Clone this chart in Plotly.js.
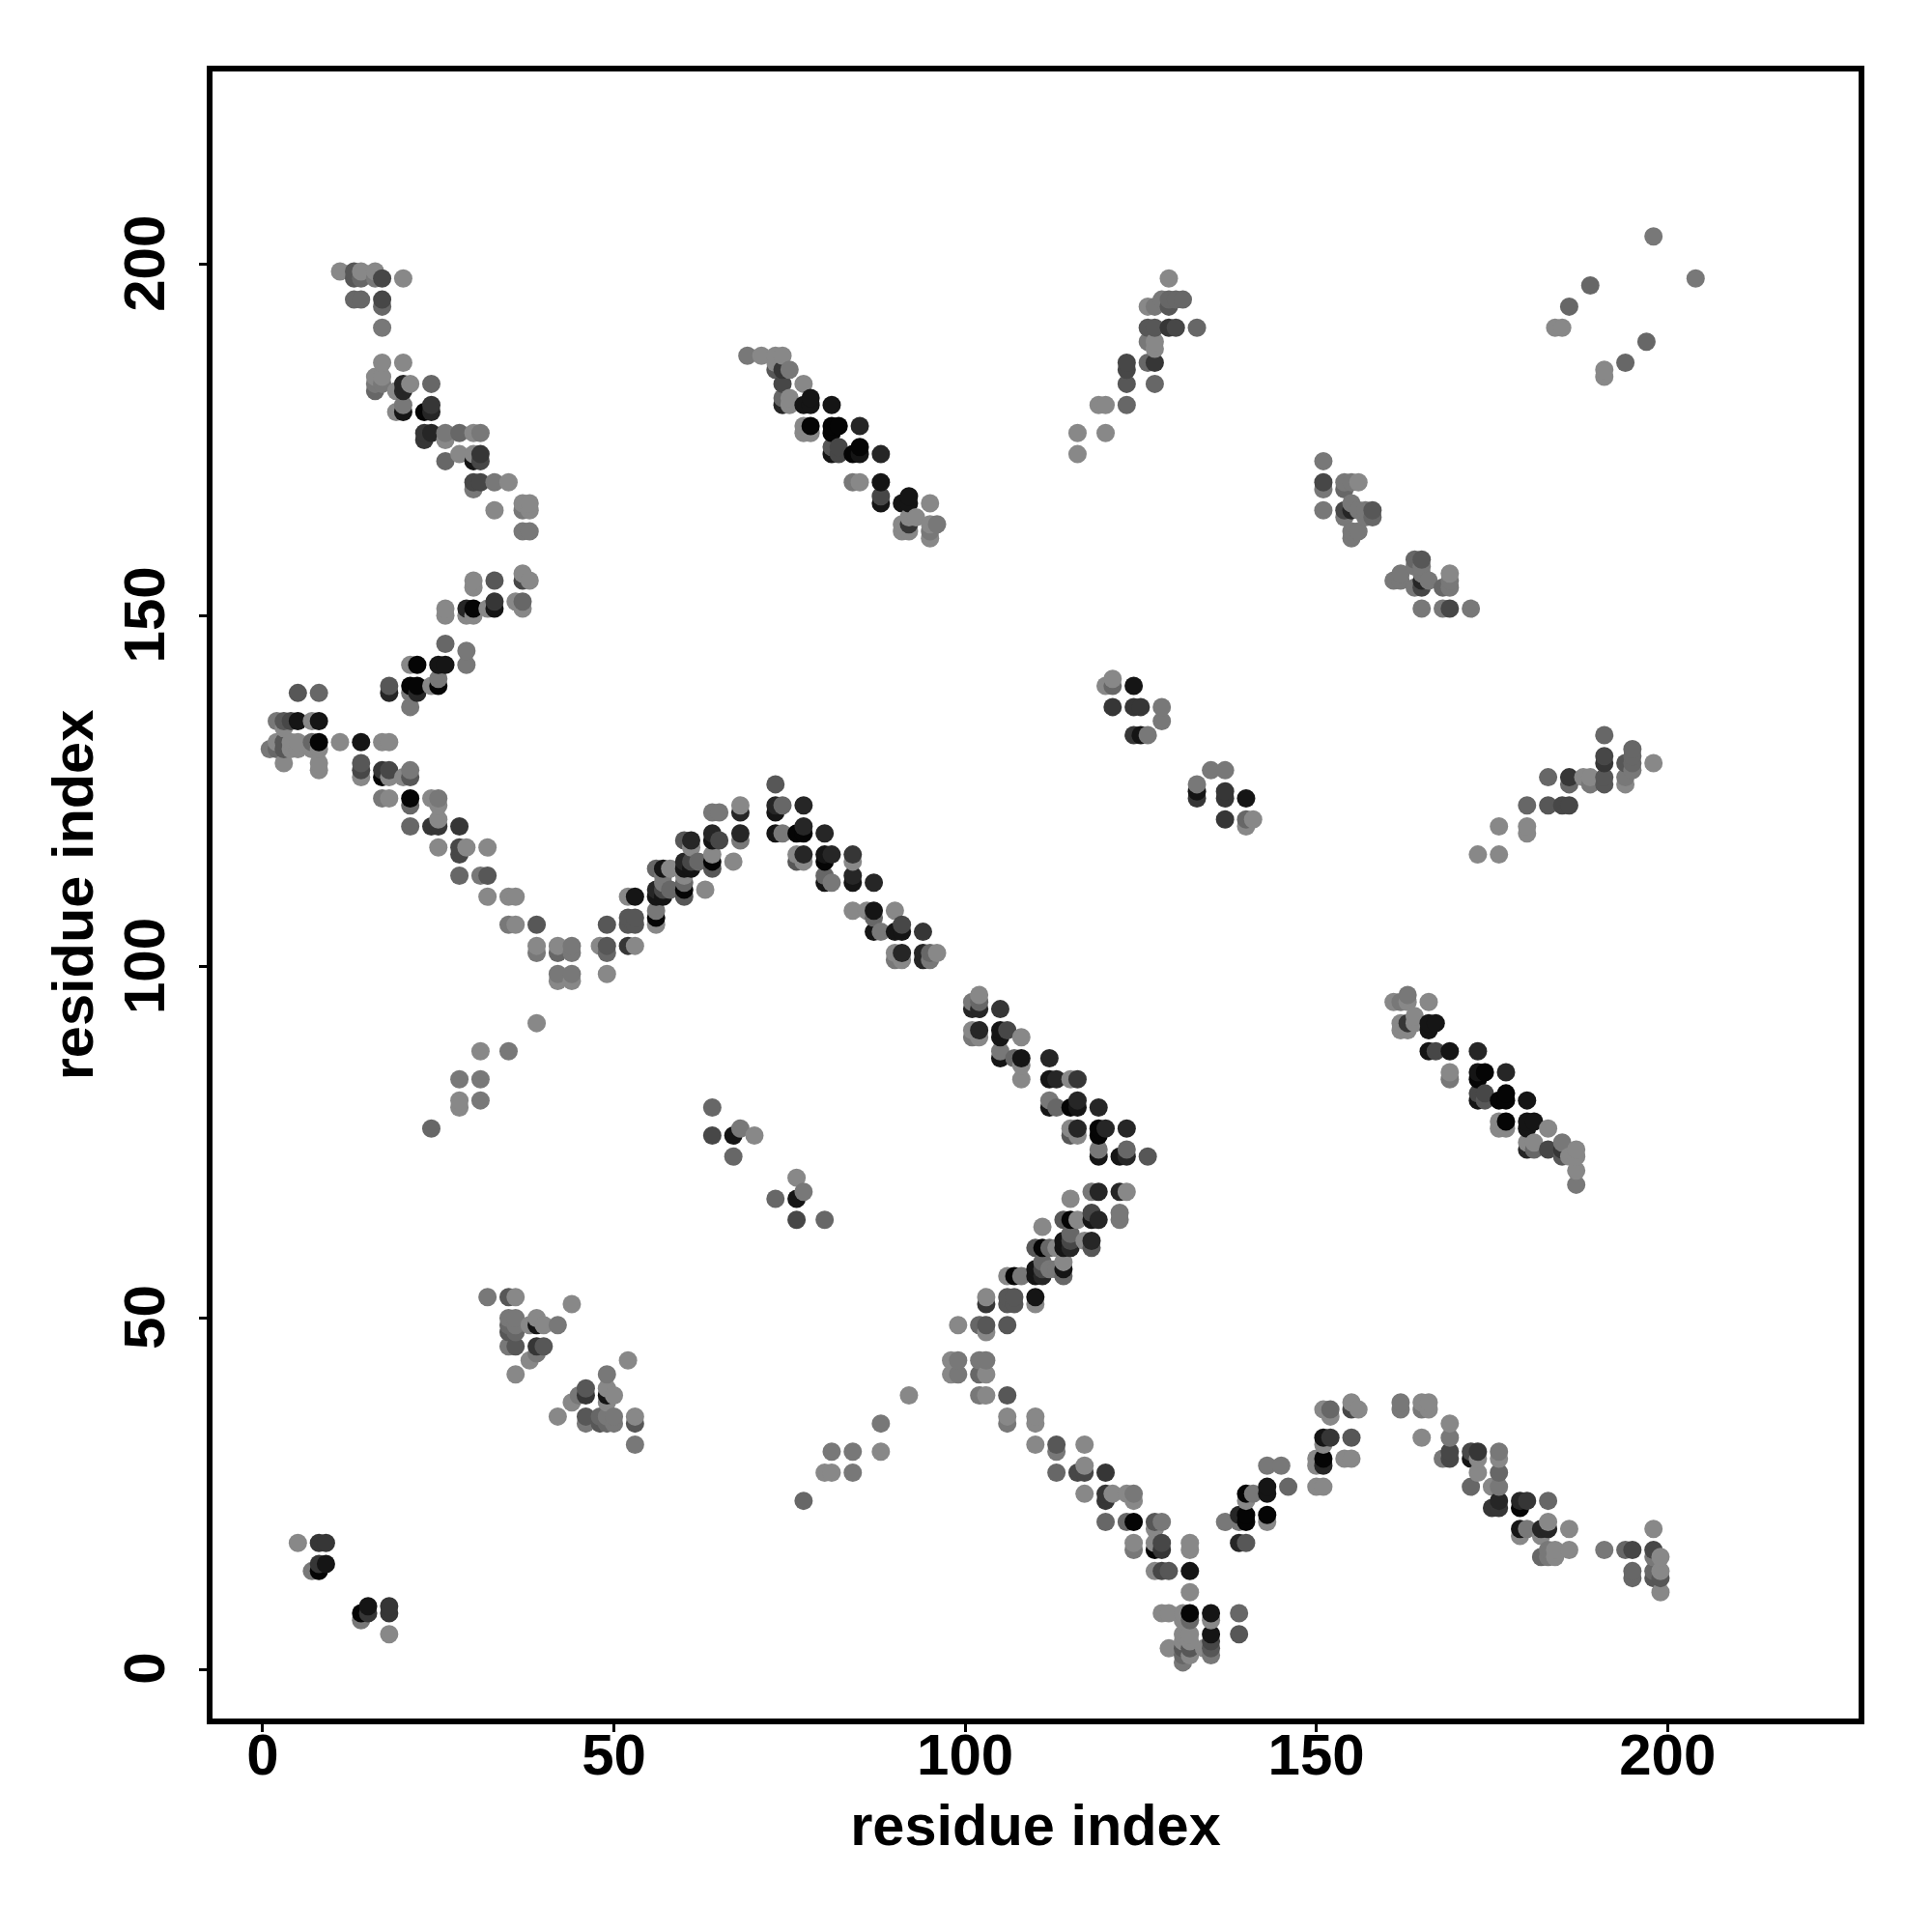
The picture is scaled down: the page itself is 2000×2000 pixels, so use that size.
<!DOCTYPE html>
<html><head><meta charset="utf-8">
<script src="https://cdn.plot.ly/plotly-3.0.1.min.js"></script>
<style>html,body{margin:0;padding:0;background:#fff}</style></head>
<body><div id="chart" style="width:2000px;height:2000px"></div>
<script>
// Contact pairs: each pair (i, j) appears at (i, j) and (j, i).
const residueI = [
 5,8,9,8,9,8,7,
 32,35,36,35,36,35,36,35,36,39,38,39,40,42,44,35,36,39,40,38,39,36,
 24,28,28,28,31,31,31,35,39,
 44,44,42,42,39,39,39,36,35,36,35,32,32,31,32,28,28,28,29,28,25,25,24,25,25,25,24,
 21,21,21,21,21,20,18,17,18,18,17,17,18,17,14,14,14,14,11,
 8,8,8,8,8,7,8,7,7,3,5,4,5,4,3,3,2,1,2,5,4,3,2,3,5,
 21,22,22,21,18,18,22,21,21,25,24,25,26,25,26,29,29,
 26,26,30,30,29,29,30,30,33,33,32,33,37,37,36,37,37,38,
 42,42,44,44,49,48,49,49,49,52,53,52,52,53,53,52,53,
 56,56,56,56,57,56,57,58,57,60,60,60,60,63,60,61,56,57,58,57,60,61,62,61,60,61,
 64,64,64,65,64,64,65,64,68,68,68,68,67,
 73,73,74,73,77,73,74,76,77,77,80,76,76,77,77,80,80,81,84,84,
 80,80,81,84,84,87,84,86,87,90,87,87,88,90,91,91,94,90,91,91,90,94,94,95,95,96,
 69,71,73,74,73,73,74,75,74,77,74,74,75,75,77,78,78,81,77,77,78,78,81,81,82,85,
 81,81,82,82,84,85,85,88,84,85,88,88,88,91,92,92,95,91,91,92,92,93,92,95,96,95,95,
 11,13,13,14,14,16,16,17,20,13,14,17,17,17,17,20,16,17,16,16,17,19,20,20,21,24,
 19,20,20,23,24,24,23,23,24,26,26,28,30,31,26,28,30,30,31,31,30,30,31,33,35,33,37,37,38,38,37,38,
 116,116,120,119,120,123,123,123,123,127,126,127,126,127,126,127,127,126,129,130,133,129,129,130,131,129,128,127,
 151,151,151,154,155,156,151,154,155,154,155,156,154,157,158,158,157,155,156,155,
 120,121,121,124,121,124,125,128,128,124,125,126,
 198,189,186,184,185,
 64,64,67,67,68,70
];
const residueJ = [
 18,18,18,15,15,14,14,
 53,53,53,50,50,49,49,48,48,50,49,49,49,49,52,46,46,46,46,44,45,42,
 77,80,81,84,81,84,88,88,92,
 102,103,102,103,102,103,106,106,106,110,110,110,113,113,117,113,116,117,117,120,117,120,120,121,123,124,124,
 120,123,124,127,128,127,124,124,127,128,127,128,132,132,127,128,129,132,132,
 128,129,131,132,135,135,139,131,132,129,131,131,132,132,132,131,131,131,132,135,135,135,135,134,139,
 137,139,140,140,139,140,143,143,139,140,140,141,143,143,146,143,145,
 150,151,150,151,151,150,154,155,151,152,151,155,151,152,152,155,156,155,
 98,99,98,99,99,103,102,103,106,103,103,106,107,106,107,110,110,
 106,107,108,110,110,111,111,111,112,110,111,112,113,111,114,114,114,114,114,113,115,115,115,117,118,118,
 114,115,116,118,118,119,122,122,118,119,122,123,115,
 126,123,123,122,123,119,119,119,119,120,119,116,115,116,115,116,115,116,116,115,
 113,112,112,113,112,112,108,108,108,108,107,105,105,105,105,106,105,102,102,101,101,102,101,102,101,102,
 187,187,187,187,186,185,185,185,183,183,181,180,181,180,180,180,181,180,177,176,177,176,177,176,177,177,
 174,173,174,173,173,173,174,173,169,169,169,167,166,166,166,167,166,163,162,163,162,164,164,163,163,162,161,
 199,199,198,199,198,199,198,198,198,195,195,195,194,191,186,186,184,184,183,182,183,182,183,182,183,183,
 179,180,179,179,180,179,176,175,176,176,175,176,176,176,172,173,173,172,173,172,169,168,169,169,169,165,166,165,166,165,162,162,
 173,176,176,180,180,180,183,185,186,183,186,186,189,189,191,191,194,194,191,191,191,194,195,195,195,198,195,188,
 172,169,168,169,169,169,165,168,166,165,165,165,164,165,165,164,164,162,162,161,
 140,141,140,140,137,137,137,137,135,133,133,133,
 204,197,194,191,191,
 80,76,76,73,77,76
];
const contactLevel = [
 8,3,3,3,1,0,7,
 7,5,8,7,7,6,7,5,6,8,8,1,8,7,8,7,5,3,5,8,7,8,
 6,8,8,7,7,7,8,7,8,
 7,7,6,8,7,8,5,8,7,8,8,8,5,7,8,6,4,4,8,3,8,3,3,8,8,7,8,
 6,6,0,5,7,8,8,7,8,4,0,3,8,8,8,4,5,1,8,
 8,8,8,0,1,8,6,8,6,8,8,8,8,8,5,5,6,7,8,1,4,5,7,8,5,
 7,2,0,0,2,5,0,8,7,0,8,7,1,1,6,7,7,
 8,8,8,0,2,8,8,8,1,3,8,5,8,6,8,4,8,8,
 8,7,8,7,8,8,6,5,5,3,8,5,5,5,5,8,1,
 8,0,7,1,1,2,4,6,7,5,0,6,8,8,1,1,6,1,8,7,2,4,6,8,5,2,
 5,0,8,4,1,2,7,7,7,2,2,8,8,
 5,2,6,1,2,1,7,0,0,2,2,8,5,2,8,1,0,2,3,8,
 6,1,7,2,1,2,8,8,1,8,6,1,7,1,1,4,3,8,2,8,7,2,2,6,7,8,
 7,8,8,8,8,5,3,7,4,8,6,2,8,8,1,1,1,1,8,8,0,8,0,0,0,2,
 5,1,4,4,0,1,0,2,7,8,1,4,1,1,1,1,8,8,8,3,8,8,8,8,7,7,8,
 8,5,5,8,6,8,7,4,8,6,6,4,6,7,8,8,8,8,7,6,7,8,2,2,8,6,
 8,7,1,0,3,2,3,3,2,7,8,6,8,7,6,8,8,1,3,4,4,7,4,7,8,8,8,7,8,8,7,7,
 8,8,8,8,8,6,5,4,4,6,6,3,7,8,5,5,7,8,3,4,6,5,6,6,6,8,7,8,
 7,4,7,7,7,8,7,6,7,4,2,7,7,7,5,6,7,7,7,7,
 8,8,6,1,3,3,3,7,7,3,1,7,
 7,6,6,8,8,
 6,4,1,6,7,8
];
const tickValues = [0, 50, 100, 150, 200];
const axisLabel = 'residue index';

const xs = residueI.concat(residueJ);
const ys = residueJ.concat(residueI);
const ls = contactLevel.concat(contactLevel);
const order = xs.map((_, k) => k).sort((a, b) => xs[a] - xs[b] || ys[a] - ys[b]);

const fontFace = '"Liberation Sans", Arial, sans-serif';
const axisBase = {
  tickvals: tickValues, ticktext: tickValues.map(String),
  ticks: 'outside', ticklen: 8, tickwidth: 3, tickcolor: '#000',
  showline: true, linecolor: '#000', linewidth: 6, mirror: true,
  showgrid: false, zeroline: false,
  tickfont: {family: fontFace, size: 60, color: '#000', weight: 700}
};
const titleFont = {family: fontFace, size: 59.5, color: '#000', weight: 700};
Plotly.newPlot('chart', [{
  type: 'scatter', mode: 'markers',
  x: order.map(k => xs[k]), y: order.map(k => ys[k]),
  marker: {size: 19, line: {width: 0}, color: order.map(k => ls[k]), cmin: 0, cmax: 8,
    colorscale: [[0, 'rgb(5,5,5)'], [1, 'rgb(136,136,136)']], showscale: false}
}], {
  width: 2000, height: 2000, showlegend: false,
  paper_bgcolor: '#fff', plot_bgcolor: '#fff',
  margin: {l: 220, r: 76, t: 74, b: 221},
  xaxis: Object.assign({}, axisBase, {
    range: [-7.15, 227.2],
    ticklabelstandoff: -28,
    title: {text: axisLabel, standoff: 21, font: titleFont}
  }),
  yaxis: Object.assign({}, axisBase, {
    range: [-6.99, 227.47],
    tickangle: -90,
    ticklabelshift: 8,
    ticklabelstandoff: 12,
    title: {text: axisLabel, standoff: 2, font: titleFont}
  })
}, {staticPlot: true, displayModeBar: false});
</script></body></html>
